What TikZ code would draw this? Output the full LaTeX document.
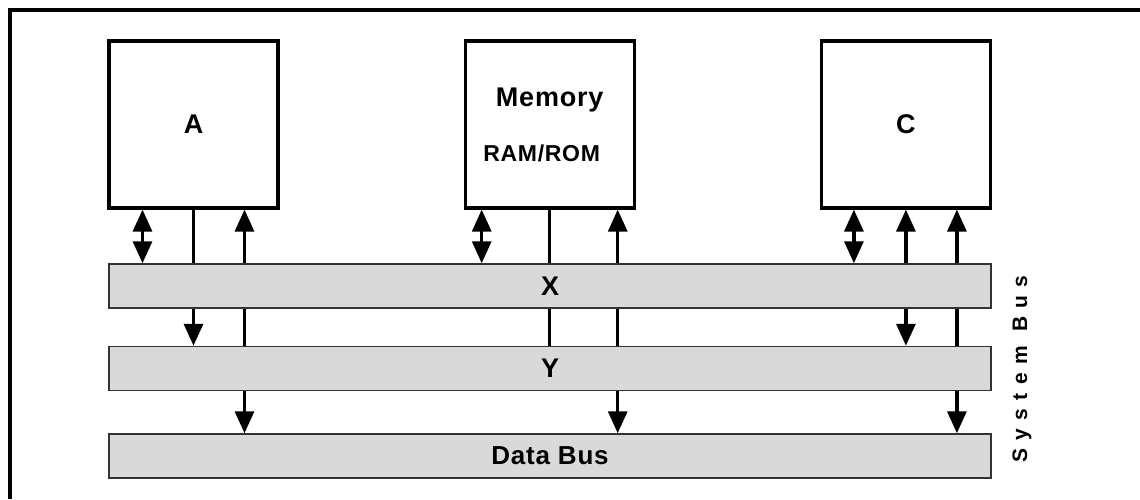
\documentclass[tikz,border=0pt]{standalone}
\usepackage{fontspec}
\setmainfont{Liberation Sans}
\newfontfamily\labelfont{Liberation Sans}[LetterSpace=3]
\newfontfamily\spacedfont{Liberation Sans}[LetterSpace=40]
\usetikzlibrary{arrows.meta, positioning, backgrounds}

\begin{document}
\begin{tikzpicture}[
            x = 0.5pt, y = -0.5pt, % one unit is one pixel of the sketch
            > = {Triangle[width=9.5pt, length=11pt]}, % arrow head style
            node distance = 92pt, % distance between the units
            line width = 1.6pt % line style
        ]

        \tikzstyle{unit}=[
            draw = black,
            line width = 1.6pt,
            fill = white,
            minimum width = 84.5pt,
            minimum height = 83.5pt,
            align = center,
            font = \labelfont\bfseries\fontsize{13.5pt}{15pt}\selectfont
        ]
        \tikzstyle{bus}=[
            draw = black!80,
            line width = 0.75pt,
            fill = black!15,
            minimum width = 441pt,
            minimum height = 22pt,
            font = \labelfont\bfseries\fontsize{13.5pt}{15pt}\selectfont
        ]
        \tikzstyle{link}=[
            draw = black,
            line width = 1.6pt
        ]

        \useasboundingbox (0,0) rectangle (1140,499);
        \draw[line width = 2.2pt] (10,499) -- (10,10) -- (1140,10);

        \node[unit] (A) at (193.5,124.5) {A};
        \node[unit] (mem) [right=of A] {Memory\\[12.5pt]{\fontsize{11.5pt}{13pt}\selectfont RAM/ROM}\hspace*{8pt}};
        \node[unit] (C) [right=of mem] {C};

        \node[bus] (busX) at (550,286) {X};
        \node[bus] (busY) [below=18.5pt of busX] {Y};
        \node[bus, font=\labelfont\bfseries\fontsize{13pt}{15pt}\selectfont] (data) [below=21pt of busY] {Data Bus};

        \node[rotate=90, font=\spacedfont\bfseries\fontsize{10.5pt}{12pt}\selectfont] (sysbus) at (1022,369) {System Bus};

        \coordinate (a1) at ([xshift=-25.5pt]A.south);
        \coordinate (a2) at (A.south);
        \coordinate (a3) at ([xshift=25.5pt]A.south);
        \coordinate (m1) at ([xshift=-34pt]mem.south);
        \coordinate (m2) at (mem.south);
        \coordinate (m3) at ([xshift=34pt]mem.south);
        \coordinate (c1) at ([xshift=-26pt]C.south);
        \coordinate (c2) at (C.south);
        \coordinate (c3) at ([xshift=25.5pt]C.south);

        \begin{scope}[on background layer]
            \draw[link, <->] (a1) -- (a1 |- busX.north);
            \draw[link, ->] (a2) -- (a2 |- busY.north);
            \draw[link, <->] (a3) -- (a3 |- data.north);
            \draw[link, <->] (m1) -- (m1 |- busX.north);
            \draw[link] (m2) -- (m2 |- busY.north);
            \draw[link, <->] (m3) -- (m3 |- data.north);
            \draw[link, <->] (c1) -- (c1 |- busX.north);
            \draw[link, <->] (c2) -- (c2 |- busY.north);
            \draw[link, <->] (c3) -- (c3 |- data.north);
        \end{scope}

    \end{tikzpicture}
\end{document}
